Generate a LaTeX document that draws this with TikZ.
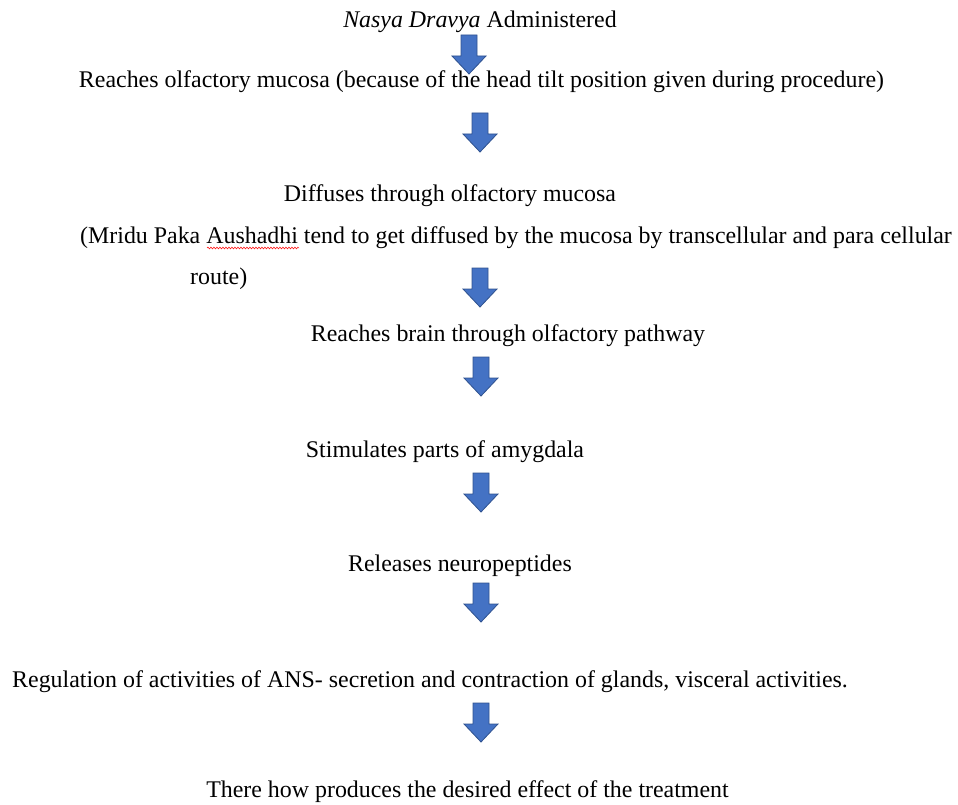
\documentclass[tikz,border=0pt]{standalone}
\usepackage{fontspec}
\setmainfont{Liberation Serif}
\usetikzlibrary{decorations.pathmorphing}

\definecolor{arrowfill}{HTML}{4472C4}
\definecolor{arrowline}{HTML}{2F528F}

\tikzset{
  txt/.style={inner sep=0pt, font=\fontsize{23.9}{28}\selectfont},
  blockarrow/.pic={
    \filldraw[fill=arrowfill, draw=arrowline, line width=0.8pt, line join=miter]
      (-8,0) -- (8,0) -- (8,21) -- (17,21) -- (0,39) -- (-17,21) -- (-8,21) -- cycle;
  }
}

\begin{document}
\begin{tikzpicture}[x=1pt, y=-1pt]
    % Cornice (dimensioni del riferimento)
    \useasboundingbox (0,0) rectangle (958,805);

    % --- Testi ---
    \node[txt, anchor=base] (admin) at (480,28) {\textit{Nasya Dravya} Administered};
    \node[txt, anchor=base] (olfmucosa) at (481.5,88) {Reaches olfactory mucosa (because of the head tilt position given during procedure)};
    \node[txt, anchor=base] (diffuse) at (450,201) {Diffuses through olfactory mucosa};
    \node[txt, anchor=base west] (mridu) at (80,243) {(Mridu Paka Aushadhi tend to get diffused by the mucosa by transcellular and para cellular};
    \node[txt, anchor=base west] (route) at (190,284) {route)};
    \node[txt, anchor=base] (brain) at (508,341) {Reaches brain through olfactory pathway};
    \node[txt, anchor=base] (amygdala) at (445,457) {Stimulates parts of amygdala};
    \node[txt, anchor=base] (neuro) at (460,571) {Releases neuropeptides};
    \node[txt, anchor=base west] (ans) at (12,687) {Regulation of activities of ANS- secretion and contraction of glands, visceral activities.};
    \node[txt, anchor=base] (effect) at (467.5,797) {There how produces the desired effect of the treatment};

    % Sottolineatura ondulata (controllo ortografico)
    \draw[red, line width=0.5pt, decorate, decoration={snake, amplitude=0.9pt, segment length=3pt}]
      (207,248) -- (299,248);

    % --- Frecce ---
    \pic at (469,35) {blockarrow};
    \pic at (480,113) {blockarrow};
    \pic at (480,268) {blockarrow};
    \pic at (481,357) {blockarrow};
    \pic at (481,473) {blockarrow};
    \pic at (481,583) {blockarrow};
    \pic at (481,703) {blockarrow};
\end{tikzpicture}
\end{document}
